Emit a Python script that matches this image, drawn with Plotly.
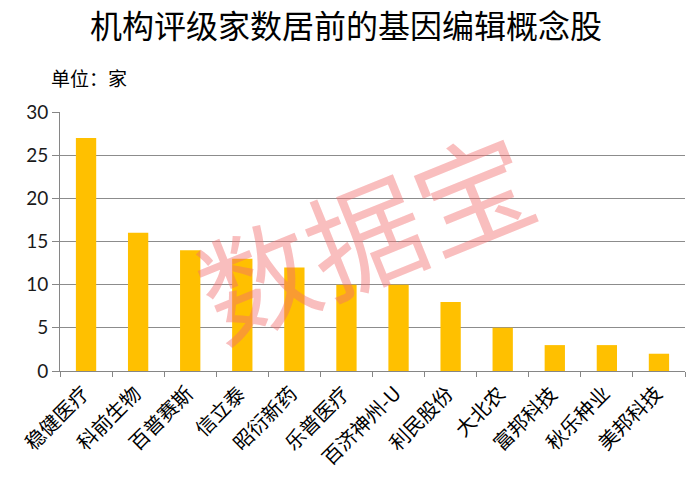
import plotly.graph_objects as go

categories = ["稳健医疗", "科前生物", "百普赛斯", "信立泰", "昭衍新药", "乐普医疗",
              "百济神州-U", "利民股份", "大北农", "富邦科技", "秋乐种业", "美邦科技"]
values = [27, 16, 14, 13, 12, 10, 10, 8, 5, 3, 3, 2]
y_ticks = [0, 5, 10, 15, 20, 25, 30]

W, H = 690, 485
OFF = 0  # page body margin removed via post_script
L, R, T, B = 60 - OFF, 5, 112 - OFF, 485 - 371 + OFF
pw = W - L - R
ph = H - T - B

def px_x(sx):
    return (sx - OFF - L) / pw

def px_y(sy):
    return (H - B - (sy - OFF)) / ph

fig = go.Figure()
fig.add_trace(go.Bar(
    x=categories, y=values,
    marker=dict(color="#FFC000", line=dict(width=0)),
    width=0.39,
))

cjk = "Noto Sans CJK SC"
annotations = [
    dict(text="单位：家", xref="paper", yref="paper",
         x=px_x(49), y=px_y(77), xanchor="left", yanchor="middle",
         showarrow=False, font=dict(family=cjk, size=19, color="#000000")),
    dict(text="数据宝", xref="paper", yref="paper",
         x=px_x(363), y=px_y(231), xanchor="center", yanchor="middle",
         showarrow=False, textangle=-22,
         font=dict(family=cjk, size=116, color="rgba(242,110,110,0.45)")),
]
for c in categories:
    annotations.append(dict(
        text=c, x=c, y=0, xref="x", yref="y",
        xanchor="right", yanchor="top", showarrow=False,
        textangle=-45, xshift=11, yshift=-5,
        font=dict(family=cjk, size=20, color="#000000"),
    ))

fig.update_layout(
    width=W, height=H,
    margin=dict(l=L, r=R, t=T, b=B, autoexpand=False),
    plot_bgcolor="white", paper_bgcolor="white",
    showlegend=False,
    title=dict(text="机构评级家数居前的基因编辑概念股",
               x=px_x(346), xanchor="center", xref="paper",
               y=1 - (27 - OFF) / H, yanchor="middle", yref="container",
               font=dict(family=cjk, size=32, color="#000000")),
    xaxis=dict(
        type="category",
        showticklabels=False,
        showline=True, linecolor="#868686", linewidth=1,
        ticks="outside", tickson="boundaries", ticklen=5, tickcolor="#868686",
        showgrid=False, automargin=False,
        range=[-0.5, len(categories) - 0.5],
    ),
    yaxis=dict(
        range=[0, 30],
        tickvals=y_ticks,
        tickfont=dict(family="Lato, Open Sans, sans-serif", size=19, color="#1a1a1a"),
        showline=True, linecolor="#868686", linewidth=1,
        ticks="outside", ticklen=7, tickcolor="#868686",
        showgrid=True, gridcolor="#8c8c8c", gridwidth=1,
        zeroline=False, automargin=False,
    ),
    annotations=annotations,
)
fig.write_html("out.html",
               config={"displayModeBar": False},
               post_script="document.body.style.margin='0';document.body.style.overflow='hidden';")
